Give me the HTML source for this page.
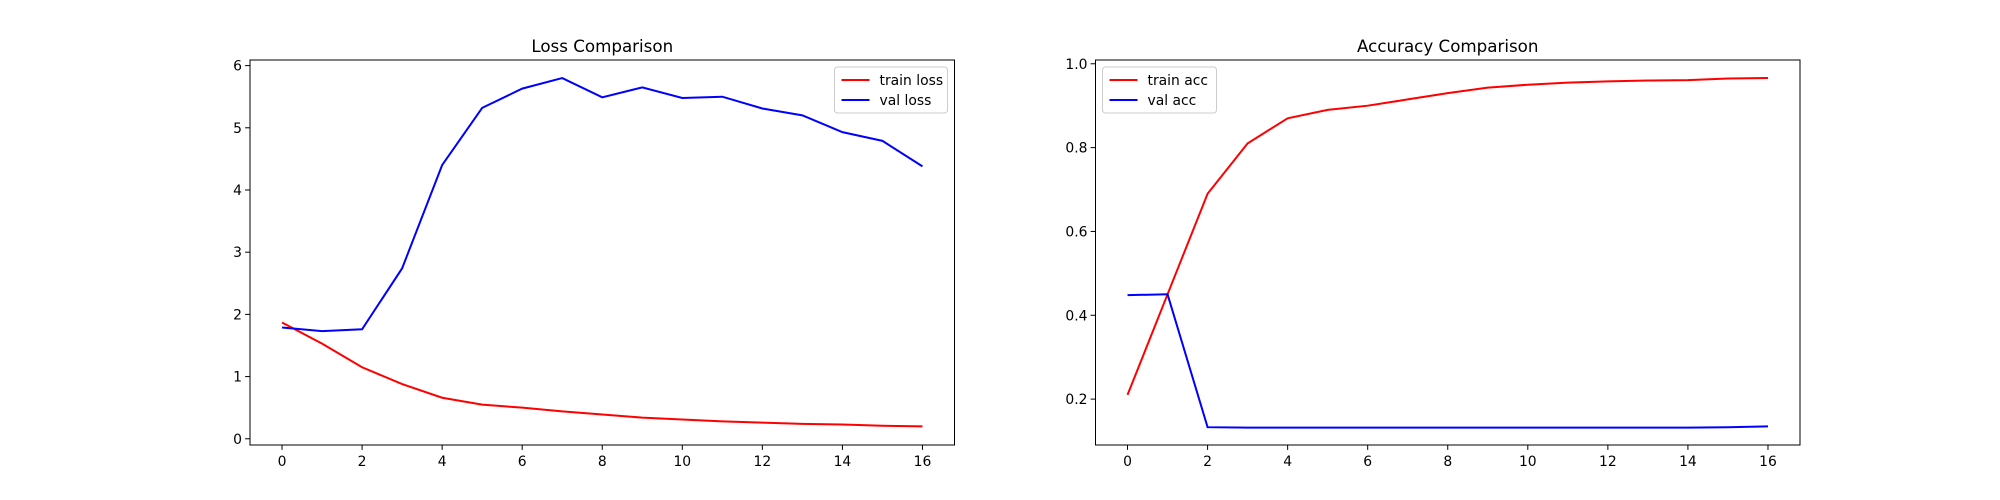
<!DOCTYPE html>
<html><head><meta charset="utf-8"><style>
html,body{margin:0;padding:0;background:#fff;}
svg{display:block;font-family:"DejaVu Sans","Liberation Sans",sans-serif;}
</style></head><body>
<svg id="fig" width="2000" height="500" viewBox="0 0 2000 500" xmlns="http://www.w3.org/2000/svg"></svg>
<script>
const epochs = [0,1,2,3,4,5,6,7,8,9,10,11,12,13,14,15,16];
const trainLoss = [1.87,1.53,1.15,0.88,0.66,0.55,0.50,0.44,0.39,0.34,0.31,0.28,0.26,0.24,0.23,0.21,0.20];
const valLoss = [1.79,1.73,1.76,2.74,4.40,5.32,5.63,5.80,5.49,5.65,5.48,5.50,5.31,5.20,4.93,4.79,4.38];
const trainAcc = [0.21,0.45,0.69,0.81,0.87,0.89,0.90,0.915,0.93,0.943,0.95,0.955,0.958,0.96,0.961,0.965,0.966];
const valAcc = [0.448,0.45,0.133,0.132,0.132,0.132,0.132,0.132,0.132,0.132,0.132,0.132,0.132,0.132,0.132,0.133,0.135];
const xTicks = [0,2,4,6,8,10,12,14,16];
const lossYTicks = [0,1,2,3,4,5,6];
const accYTicks = [0.2,0.4,0.6,0.8,1.0];

const NS = "http://www.w3.org/2000/svg";
const svg = document.getElementById('fig');
function mk(tag, attrs, parent){const e=document.createElementNS(NS,tag);for(const k in attrs)e.setAttribute(k,attrs[k]);(parent||svg).appendChild(e);return e;}

function panel(opt){
  const L=opt.left,R=opt.left+704.5,T=60,B=445;
  const g=mk('g',{});
  
  
  const sx=v=>L+(v-(-0.8))/(17.6)*(R-L);
  const sy=v=>B-(v-opt.ymin)/(opt.ymax-opt.ymin)*(B-T);
  xTicks.forEach(t=>{
    const x=sx(t);
    mk('line',{x1:x,x2:x,y1:B,y2:B+4.9,stroke:'#000','stroke-width':1},g);
    const tx=mk('text',{x:x,y:B+21,'text-anchor':'middle','font-size':13.9},g);
    tx.textContent=t;
    
    
  });
  opt.yticks.forEach(t=>{
    const y=sy(t);
    mk('line',{x1:L-4.9,x2:L,y1:y,y2:y,stroke:'#000','stroke-width':1},g);
    const tx=mk('text',{x:L-8,y:y+5,'text-anchor':'end','font-size':13.9},g);
    tx.textContent=opt.fmt(t);
    
    
  });
  opt.series.forEach(s=>{
    const pts=epochs.map((e,i)=>sx(e).toFixed(2)+','+sy(s.data[i]).toFixed(2)).join(' ');
    const pl=mk('polyline',{points:pts,fill:'none',stroke:s.color,'stroke-width':2},g);
    
    
  });
  const fr=mk('rect',{x:L,y:T,width:R-L,height:B-T,fill:'none',stroke:'#000','stroke-width':1},g);
  
  
  const ti=mk('text',{x:(L+R)/2,y:T-8,'text-anchor':'middle','font-size':16.7},g);
  ti.textContent=opt.title;
  
  
  const lw=opt.legW, lh=46;
  const lx=opt.legLeft?L+7:R-7-lw, ly=T+7;
  const lg=mk('g',{},g);
  
  
  mk('rect',{x:lx,y:ly,width:lw,height:lh,rx:3,fill:'#fff','fill-opacity':0.8,stroke:'#ccc'},lg);
  opt.series.forEach((s,i)=>{
    const yy=ly+13+i*20;
    mk('line',{x1:lx+7,x2:lx+35,y1:yy,y2:yy,stroke:s.color,'stroke-width':2},lg);
    const t=mk('text',{x:lx+45,y:yy+5,'font-size':13.9},lg);
    t.textContent=s.label;
    
    
  });
}
panel({name:'loss-chart',left:250,ymin:-0.1,ymax:6.09,yticks:lossYTicks,fmt:t=>String(t),title:'Loss Comparison',legLeft:false,legW:113,
  series:[{key:'train-loss',label:'train loss',color:'#ff0000',data:trainLoss},{key:'val-loss',label:'val loss',color:'#0000ff',data:valLoss}]});
panel({name:'accuracy-chart',left:1095.5,ymin:0.0905,ymax:1.009,yticks:accYTicks,fmt:t=>t.toFixed(1),title:'Accuracy Comparison',legLeft:true,legW:114,
  series:[{key:'train-acc',label:'train acc',color:'#ff0000',data:trainAcc},{key:'val-acc',label:'val acc',color:'#0000ff',data:valAcc}]});
</script>
</body></html>
